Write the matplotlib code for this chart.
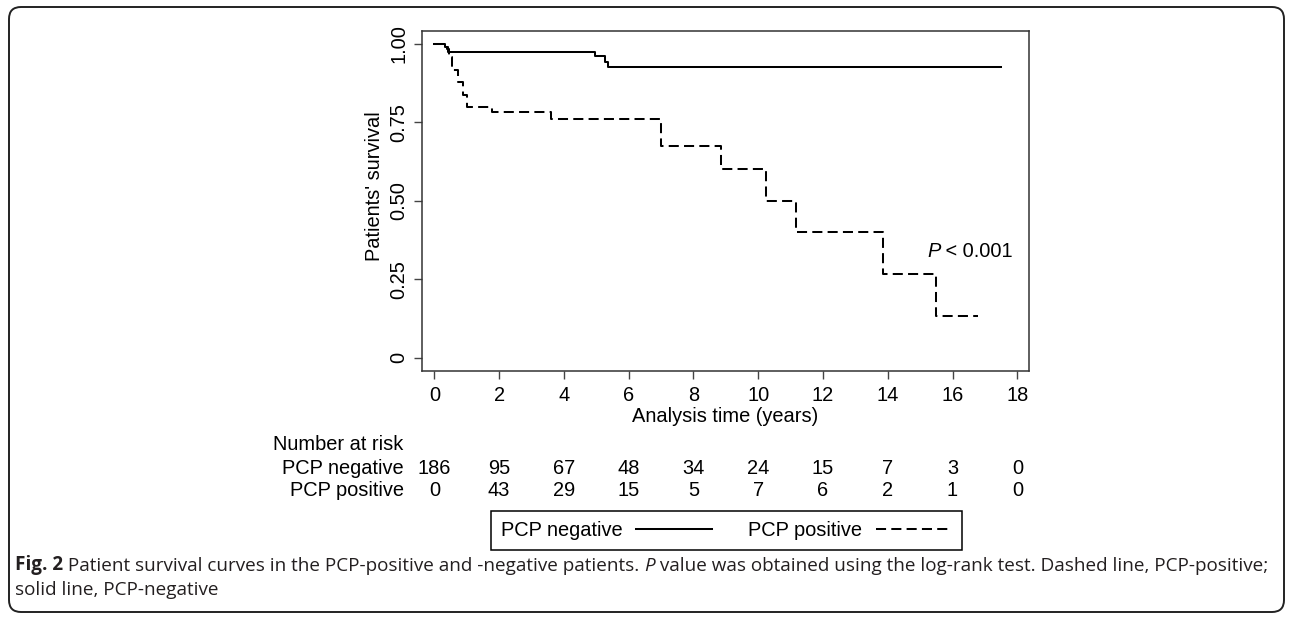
import matplotlib
matplotlib.use('Agg')
import matplotlib.pyplot as plt
import matplotlib.transforms as mtransforms
from matplotlib import font_manager
from matplotlib.patches import FancyBboxPatch

# Kaplan-Meier steps
neg_time = [0, 0.33, 0.42, 4.96, 5.27, 5.37, 17.5]
neg_surv = [1.0, 0.991, 0.975, 0.962, 0.944, 0.928, 0.928]

pos_time = [0, 0.38, 0.45, 0.55, 0.72, 0.88, 1.0, 1.78, 3.6, 7.0, 8.85,
            10.25, 11.17, 13.86, 15.5, 16.8]
pos_surv = [1.0, 0.985, 0.96, 0.917, 0.88, 0.837, 0.80, 0.782, 0.76, 0.676,
            0.60, 0.50, 0.40, 0.267, 0.133, 0.133]

risk_times = [0, 2, 4, 6, 8, 10, 12, 14, 16, 18]
risk_neg = [186, 95, 67, 48, 34, 24, 15, 7, 3, 0]
risk_pos = [0, 43, 29, 15, 5, 7, 6, 2, 1, 0]

y_ticks = [0, 0.25, 0.5, 0.75, 1.0]
y_ticklabels = ['0', '0.25', '0.50', '0.75', '1.00']

plt.rcParams['font.family'] = ['Liberation Sans', 'DejaVu Sans']
FS = 14.4
W, H = 1292, 620

fig = plt.figure(figsize=(W / 100, H / 100), dpi=100)
fig.patch.set_facecolor('white')

def px(x0, y0, x1, y1):
	# pixel box (from top-left) to figure fractions
	return [x0 / W, 1 - y1 / H, (x1 - x0) / W, (y1 - y0) / H]

ax = fig.add_axes(px(421.7, 31, 1029.3, 371))
ax.set_xlim(-0.39, 18.37)
ax.set_ylim(-0.0424, 1.0414)

dash = (0, (5, 2.6))
l_neg, = ax.plot(neg_time, neg_surv, drawstyle='steps-post', color='black', lw=1.45)
l_pos, = ax.plot(pos_time, pos_surv, drawstyle='steps-post', color='black', lw=1.45,
                 linestyle=dash)

ax.set_xticks(risk_times)
ax.set_yticks(y_ticks)
ax.set_yticklabels(y_ticklabels, rotation=90, va='center')
ax.tick_params(axis='both', direction='out', length=6, width=1, color='#444444',
               labelsize=FS, labelcolor='black')
ax.tick_params(axis='x', pad=5)
ax.tick_params(axis='y', pad=3.5)
for s in ax.spines.values():
	s.set_color('#333333')
	s.set_linewidth(1.1)

ax.set_xlabel('Analysis time (years)', fontsize=FS)
ax.xaxis.set_label_coords(0.5, -0.105)
ax.set_ylabel("Patients' survival", fontsize=FS)
ax.yaxis.set_label_coords(-0.062, 0.545)

# P value text: italic P followed by the rest
tp = ax.text(15.21, 0.337, 'P', style='italic', fontsize=FS, va='center')
ax.annotate(' < 0.001', xy=(1, 0), xycoords=tp, va='bottom', ha='left', fontsize=FS)

# number at risk table
fig.text(273 / W, 1 - 444 / H, 'Number at risk', fontsize=FS, va='center', ha='left')
fig.text(404 / W, 1 - 468 / H, 'PCP negative', fontsize=FS, va='center', ha='right')
fig.text(404 / W, 1 - 491 / H, 'PCP positive', fontsize=FS, va='center', ha='right')
trans = mtransforms.blended_transform_factory(ax.transData, fig.transFigure)
for t, n1, n2 in zip(risk_times, risk_neg, risk_pos):
	ax.text(t, 1 - 468 / H, str(n1), transform=trans, ha='center', va='center',
	        fontsize=FS, clip_on=False)
	ax.text(t, 1 - 491 / H, str(n2), transform=trans, ha='center', va='center',
	        fontsize=FS, clip_on=False)

leg = ax.legend([l_neg, l_pos], ['PCP negative', 'PCP positive'], ncol=2,
                markerfirst=False, loc='center', bbox_to_anchor=(726.5 / W, 1 - 530 / H),
                bbox_transform=fig.transFigure, fontsize=FS, handlelength=3.8,
                handletextpad=0.7, columnspacing=1.8, borderpad=0.5,
                fancybox=False, framealpha=1)
leg.get_frame().set_edgecolor('black')
leg.get_frame().set_linewidth(1.1)

# caption (narrow face if there is one)
names = {f.name for f in font_manager.fontManager.ttflist}
cap_font = 'Liberation Sans Narrow' if 'Liberation Sans Narrow' in names else 'Open Sans'
cap = [cap_font, 'DejaVu Sans']
CS = 12
ccol = '#231f20'
c1 = fig.text(15 / W, 1 - 565 / H, 'Fig. 2', family=cap, weight='bold', fontsize=CS,
              va='center', color=ccol)
c2 = ax.annotate(' Patient survival curves in the PCP-positive and -negative patients. ',
                 xy=(1, 0), xycoords=c1, va='bottom', family=cap, fontsize=CS, color=ccol)
c3 = ax.annotate('P', xy=(1, 0), xycoords=c2, va='bottom', family=cap, style='italic',
                 fontsize=CS, color=ccol)
c4 = ax.annotate(' value was obtained using the log-rank test. Dashed line, PCP-positive;',
                 xy=(1, 0), xycoords=c3, va='bottom', family=cap, fontsize=CS, color=ccol)
c5 = fig.text(15 / W, 1 - 590 / H, 'solid line, PCP-negative', family=cap, fontsize=CS,
              va='center', color=ccol)

# fit the first caption line to the width seen in the picture
for _ in range(3):
	fig.canvas.draw()
	right = c4.get_window_extent(fig.canvas.get_renderer()).x1
	CS = CS * (1268 - 15) / (right - 15)
	for c in (c1, c2, c3, c4, c5):
		c.set_fontsize(CS)

# rounded outer frame
frame = FancyBboxPatch((0.09, 0.08), 12.75, 6.05, boxstyle='round,pad=0,rounding_size=0.12',
                       transform=fig.dpi_scale_trans, fill=False, lw=1.4, ec='#222222')
fig.add_artist(frame)

fig.savefig('out.png', dpi=100)
